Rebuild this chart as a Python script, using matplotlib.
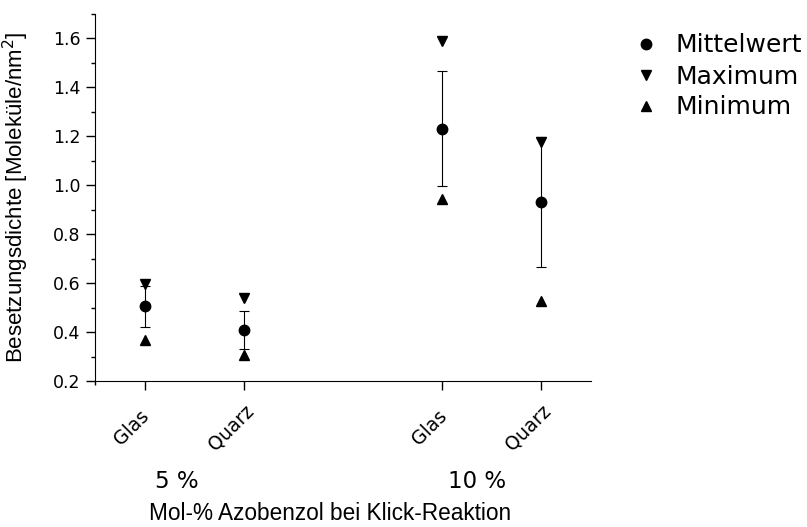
import matplotlib
matplotlib.use("Agg")
import matplotlib.pyplot as plt
import matplotlib.transforms as mtransforms
from matplotlib.lines import Line2D

# data
positions = [1, 2, 4, 5]
substrates = ["Glas", "Quarz", "Glas", "Quarz"]
mittelwert = [0.505, 0.409, 1.231, 0.933]
fehler = [0.085, 0.078, 0.235, 0.266]
maximum = [0.597, 0.540, 1.590, 1.178]
minimum = [0.368, 0.306, 0.945, 0.527]
gruppen = ["5 %", "10 %"]
gruppen_pos = [1.32, 4.35]
legend_labels = ["Mittelwert", "Maximum", "Minimum"]

fig = plt.figure(figsize=(8.07, 5.27), dpi=100)
ax = fig.add_axes([95 / 807, 1 - 381 / 527, (591 - 95) / 807, (381 - 14) / 527])

ax.errorbar(positions, mittelwert, yerr=fehler, fmt="o", color="black",
            markersize=7.5, elinewidth=0.8, capsize=3.5, capthick=0.8,
            zorder=3)
ax.plot(positions, maximum, "v", color="black", markersize=7.5,
        linestyle="none", zorder=3)
ax.plot(positions, minimum, "^", color="black", markersize=7.5,
        linestyle="none", zorder=3)

ax.set_xlim(0.5, 5.5)
ax.set_ylim(0.2, 1.70)
ax.set_yticks([0.2, 0.4, 0.6, 0.8, 1.0, 1.2, 1.4, 1.6])
ax.set_yticks([0.3, 0.5, 0.7, 0.9, 1.1, 1.3, 1.5, 1.7], minor=True)
ax.set_xticks(positions)
ax.set_xticks([0.5], minor=True)
ax.set_xticklabels(substrates, rotation=45, ha="center", va="center",
                   rotation_mode="anchor", fontsize=13.5)
ax.tick_params(axis="x", which="major", pad=27)
ax.tick_params(axis="y", labelsize=12.5, pad=4)
ax.tick_params(which="major", length=6.5, width=1)
ax.tick_params(which="minor", length=3, width=1)
ax.yaxis.set_major_formatter(matplotlib.ticker.FormatStrFormatter("%.1f"))

# rotated labels sit a bit left of their ticks in the reference
shift = mtransforms.ScaledTranslation(-13 / 100, 0, fig.dpi_scale_trans)
for lab in ax.get_xticklabels():
    lab.set_transform(lab.get_transform() + shift)

for side in ["top", "right"]:
    ax.spines[side].set_visible(False)

ax.set_ylabel("Besetzungsdichte [Moleküle/nm$^2$]", family="Liberation Sans",
              fontsize=16)
ax.yaxis.set_label_coords((31 - 95) / 496, 0.5)

trans = mtransforms.blended_transform_factory(ax.transData, fig.transFigure)
for label, xp in zip(gruppen, gruppen_pos):
    ax.text(xp, 1 - 481 / 527, label, transform=trans, ha="center",
            va="center", fontsize=16.5)

fig.text(330 / 807, 1 - 520 / 527, "Mol-% Azobenzol bei Klick-Reaktion",
         family="Liberation Sans", fontsize=16.3, ha="center", va="baseline")

handles = [Line2D([], [], marker=m, color="black", linestyle="none",
                  markersize=7.5) for m in ["o", "v", "^"]]
fig.legend(handles, legend_labels, loc="upper left",
           bbox_to_anchor=(621 / 807, 1 - 21 / 527),
           frameon=False, fontsize=18, handlelength=1.0, handletextpad=0.7,
           labelspacing=0.28, borderpad=0)

fig.savefig("out.png", dpi=100)
